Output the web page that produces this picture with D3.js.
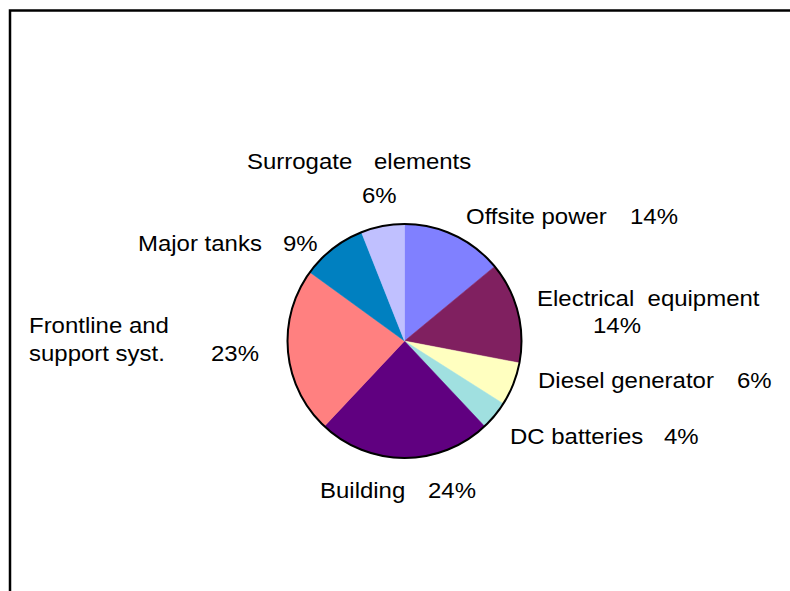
<!DOCTYPE html>
<html>
<head>
<meta charset="utf-8">
<script src="https://cdn.jsdelivr.net/npm/d3@7"></script>
<style>
  body { margin: 0; background: #fff; }
  text { font-family: Arial, "Liberation Sans", sans-serif; font-size: 22px; fill: #000; white-space: pre; }
</style>
</head>
<body>
<div id="chart"></div>
<script>
// data
var categories = ["Offsite power", "Electrical equipment", "Diesel generator", "DC batteries",
                  "Building", "Frontline and support syst.", "Major tanks", "Surrogate elements"];
var shares = [14, 14, 6, 4, 24, 23, 9, 6];
var sliceColors = ["#8080FF", "#802060", "#FFFFC0", "#A0E0E0", "#600080", "#FF8080", "#0080C0", "#C0C0FF"];

// hand placed labels, like the original (name pieces + percent piece)
var labelLayout = [
  { name: [["Offsite power", 466, 224]], pct: [630, 224] },
  { name: [["Electrical  equipment", 537, 306]], pct: [593, 333] },
  { name: [["Diesel generator", 538, 388]], pct: [737, 388] },
  { name: [["DC batteries", 510, 444]], pct: [664, 444] },
  { name: [["Building", 320, 498]], pct: [428, 498] },
  { name: [["Frontline and", 29, 333], ["support syst.", 29, 361]], pct: [211, 361] },
  { name: [["Major tanks", 138, 251]], pct: [283, 251] },
  { name: [["Surrogate", 247, 169], ["elements", 374, 169]], pct: [362, 203] }
];

var W = 790, H = 591;
var cx = 404.5, cy = 341, radius = 117;
var stretch = 1.09; // text in the original is a bit wide

var svg = d3.select("#chart")
    .append("svg")
    .attr("width", W)
    .attr("height", H);

// frame (top and left edges only show)
svg.append("path")
    .attr("d", "M10,591V10.5H790")
    .attr("fill", "none")
    .attr("stroke", "#000")
    .attr("stroke-width", 2.5);

var data = categories.map(function (c, i) { return { name: c, value: shares[i], color: sliceColors[i], i: i }; });

var pie = d3.pie()
    .value(function (d) { return d.value; })
    .sort(null);

var arc = d3.arc()
    .innerRadius(0)
    .outerRadius(radius);

var g = svg.append("g")
    .attr("transform", "translate(" + cx + "," + cy + ")");

g.selectAll("path.slice")
    .data(pie(data))
    .enter()
    .append("path")
    .attr("class", "slice")
    .attr("d", arc)
    .attr("fill", function (d) { return d.data.color; })
    .attr("stroke", function (d) { return d.data.color; })
    .attr("stroke-width", 0.5);

// outline
g.append("circle")
    .attr("r", radius)
    .attr("fill", "none")
    .attr("stroke", "#000")
    .attr("stroke-width", 2);

// labels
function addText(t, x, y) {
  svg.append("text")
      .attr("transform", "translate(" + x + "," + y + ") scale(" + stretch + ",1)")
      .text(t);
}

data.forEach(function (d, i) {
  var lay = labelLayout[i];
  lay.name.forEach(function (p) { addText(p[0], p[1], p[2]); });
  addText(d.value + "%", lay.pct[0], lay.pct[1]);
});
</script>
</body>
</html>
